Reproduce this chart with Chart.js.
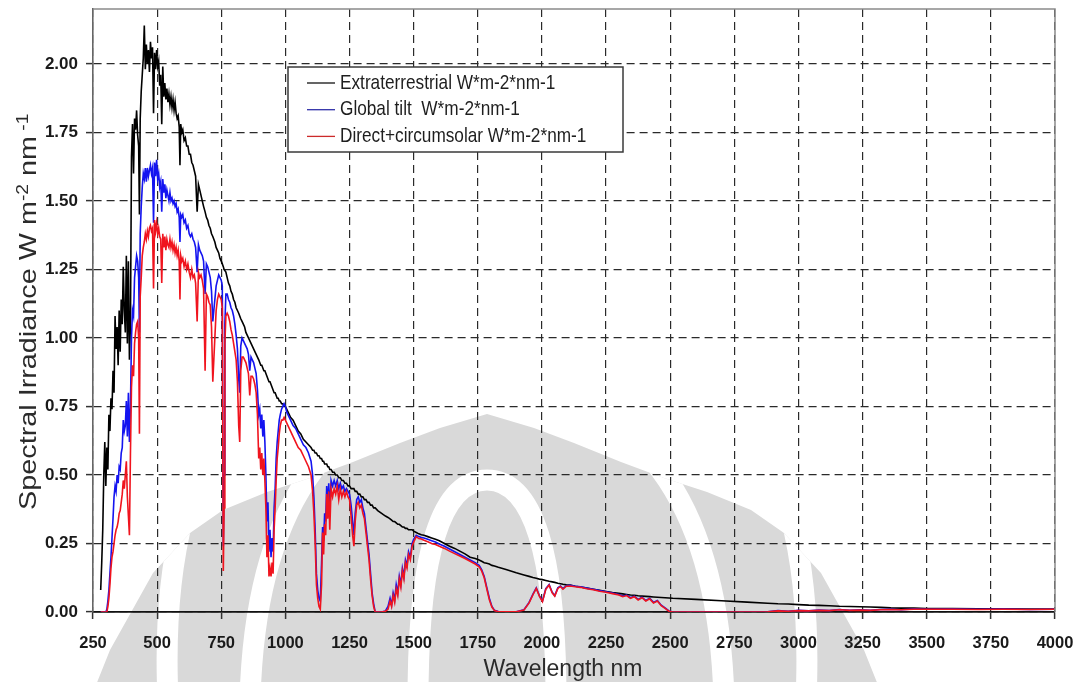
<!DOCTYPE html>
<html>
<head>
<meta charset="utf-8">
<title>Spectral irradiance</title>
<script src="https://cdn.jsdelivr.net/npm/chart.js@4.4.1/dist/chart.umd.min.js"></script>
<style>
  html, body { margin: 0; padding: 0; background: #fff; }
  #wrap { width: 1081px; height: 682px; }
</style>
</head>
<body>
<div id="wrap"><canvas id="spectrum" width="1081" height="682"></canvas></div>
<script>
// wavelength grid (nm) shared by the three spectra
const wavelength = [
  280, 284, 288, 292, 296, 300, 304, 308, 312, 316, 320, 324, 328, 332, 336, 340, 344, 348, 352, 356,
  360, 364, 368, 372, 376, 380, 384, 388, 392, 396, 400, 404, 408, 412, 416, 420, 424, 428, 431, 434,
  438, 442, 446, 450, 454, 458, 462, 466, 470, 474, 478, 482, 486, 490, 494, 498, 502, 506, 510, 514,
  518, 522, 526, 530, 534, 538, 542, 546, 550, 554, 558, 562, 566, 570, 574, 578, 582, 586, 589, 592,
  596, 600, 605, 610, 615, 620, 625, 630, 635, 640, 645, 650, 656, 661, 666, 671, 676, 681, 687, 692,
  697, 702, 707, 712, 717, 721, 725, 730, 735, 740, 745, 750, 754, 758, 761, 764, 768, 773, 778, 783,
  788, 793, 798, 803, 808, 813, 818, 822, 826, 831, 836, 841, 846, 851, 856, 861, 866, 871, 876, 881,
  886, 891, 896, 900, 904, 908, 912, 916, 920, 924, 928, 932, 936, 940, 944, 948, 952, 956, 960, 964,
  968, 972, 976, 980, 985, 990, 995, 1000, 1005, 1010, 1020, 1030, 1040, 1050, 1060, 1070, 1080, 1090, 1100, 1106,
  1111, 1116, 1121, 1126, 1131, 1136, 1141, 1145, 1149, 1153, 1157, 1161, 1165, 1169, 1173, 1178, 1184, 1190, 1196, 1202,
  1208, 1214, 1220, 1226, 1232, 1238, 1244, 1250, 1256, 1262, 1267, 1272, 1278, 1284, 1290, 1296, 1302, 1308, 1314, 1320,
  1326, 1332, 1338, 1344, 1350, 1360, 1375, 1390, 1400, 1408, 1414, 1420, 1426, 1432, 1438, 1444, 1450, 1456, 1462, 1468,
  1474, 1480, 1487, 1494, 1500, 1510, 1520, 1530, 1540, 1555, 1570, 1585, 1600, 1620, 1640, 1660, 1680, 1700, 1720, 1740,
  1755, 1765, 1775, 1785, 1795, 1805, 1815, 1830, 1860, 1900, 1930, 1950, 1965, 1978, 1990, 2002, 2015, 2028, 2040, 2050,
  2062, 2072, 2082, 2095, 2110, 2130, 2150, 2175, 2200, 2225, 2250, 2275, 2300, 2315, 2330, 2345, 2360, 2375, 2390, 2405,
  2420, 2435, 2450, 2465, 2480, 2495, 2510, 2600, 2700, 2800, 2880, 2920, 2960, 3000, 3040, 3080, 3120, 3160, 3200, 3240,
  3280, 3320, 3360, 3400, 3450, 3500, 3600, 3700, 3800, 3900, 4000
];

// W m-2 nm-1, top of atmosphere
const extraterrestrial = [
  0.08, 0.18, 0.30, 0.50, 0.62, 0.46, 0.60, 0.52, 0.72, 0.66, 0.78, 0.74, 0.88, 0.80, 1.08, 0.96, 1.04, 0.90, 1.10, 0.95,
  1.14, 1.05, 1.26, 1.10, 1.02, 1.30, 0.98, 1.28, 0.92, 1.05, 1.66, 1.78, 1.60, 1.80, 1.76, 1.83, 1.74, 1.70, 1.45, 1.80,
  1.90, 1.96, 2.02, 2.14, 1.98, 2.07, 2.00, 2.05, 1.97, 2.08, 2.02, 2.06, 1.82, 2.04, 1.98, 2.05, 1.99, 2.01, 1.92, 1.96,
  1.78, 1.99, 1.88, 1.93, 1.87, 1.91, 1.86, 1.89, 1.85, 1.88, 1.84, 1.87, 1.83, 1.86, 1.82, 1.80, 1.81, 1.77, 1.63, 1.78,
  1.75, 1.76, 1.72, 1.73, 1.70, 1.70, 1.67, 1.67, 1.64, 1.63, 1.61, 1.59, 1.46, 1.56, 1.54, 1.52, 1.50, 1.48, 1.46, 1.44,
  1.43, 1.41, 1.40, 1.38, 1.37, 1.36, 1.35, 1.33, 1.32, 1.31, 1.29, 1.28, 1.27, 1.26, 1.25, 1.25, 1.24, 1.22, 1.20, 1.19,
  1.17, 1.16, 1.14, 1.13, 1.11, 1.10, 1.09, 1.08, 1.07, 1.06, 1.05, 1.04, 1.02, 1.01, 1.00, 0.99, 0.98, 0.97, 0.96, 0.95,
  0.94, 0.93, 0.92, 0.91, 0.90, 0.90, 0.89, 0.88, 0.88, 0.87, 0.86, 0.85, 0.84, 0.84, 0.83, 0.82, 0.81, 0.80, 0.80, 0.79,
  0.78, 0.78, 0.77, 0.77, 0.76, 0.76, 0.75, 0.75, 0.74, 0.73, 0.71, 0.70, 0.68, 0.66, 0.65, 0.63, 0.62, 0.61, 0.60, 0.59,
  0.59, 0.58, 0.58, 0.57, 0.57, 0.56, 0.56, 0.55, 0.55, 0.54, 0.54, 0.54, 0.53, 0.53, 0.52, 0.52, 0.51, 0.51, 0.50, 0.50,
  0.49, 0.49, 0.48, 0.48, 0.47, 0.47, 0.46, 0.46, 0.45, 0.45, 0.45, 0.44, 0.44, 0.43, 0.43, 0.42, 0.42, 0.41, 0.41, 0.40,
  0.40, 0.39, 0.39, 0.38, 0.38, 0.37, 0.36, 0.35, 0.345, 0.34, 0.335, 0.33, 0.33, 0.325, 0.32, 0.32, 0.315, 0.31, 0.31, 0.305,
  0.305, 0.30, 0.30, 0.30, 0.295, 0.29, 0.285, 0.282, 0.28, 0.275, 0.27, 0.265, 0.26, 0.25, 0.24, 0.232, 0.222, 0.212, 0.20, 0.195,
  0.19, 0.185, 0.18, 0.178, 0.175, 0.17, 0.168, 0.163, 0.155, 0.143, 0.135, 0.13, 0.126, 0.123, 0.12, 0.118, 0.115, 0.112, 0.11, 0.108,
  0.105, 0.103, 0.101, 0.099, 0.098, 0.094, 0.091, 0.087, 0.083, 0.079, 0.075, 0.071, 0.068, 0.066, 0.064, 0.062, 0.061, 0.059, 0.058, 0.057,
  0.056, 0.055, 0.054, 0.053, 0.052, 0.051, 0.05, 0.046, 0.041, 0.036, 0.032, 0.030, 0.029, 0.027, 0.025, 0.024, 0.023, 0.021, 0.020, 0.019,
  0.018, 0.017, 0.015, 0.014, 0.014, 0.013, 0.013, 0.012, 0.012, 0.011, 0.011
];

// W m-2 nm-1, global on 37 deg tilted surface
const globalTilt = [
  0, 0, 0, 0, 0, 0.00, 0.01, 0.04, 0.08, 0.14, 0.20, 0.27, 0.34, 0.42, 0.46, 0.44, 0.50, 0.47, 0.53, 0.52,
  0.58, 0.60, 0.70, 0.66, 0.68, 0.77, 0.64, 0.80, 0.62, 0.75, 1.00, 1.10, 1.08, 1.22, 1.26, 1.30, 1.28, 1.22, 1.02, 1.38,
  1.48, 1.55, 1.60, 1.58, 1.62, 1.57, 1.62, 1.59, 1.61, 1.63, 1.60, 1.62, 1.42, 1.64, 1.59, 1.65, 1.58, 1.60, 1.55, 1.57,
  1.46, 1.58, 1.53, 1.56, 1.51, 1.54, 1.52, 1.50, 1.53, 1.50, 1.51, 1.49, 1.50, 1.48, 1.49, 1.46, 1.47, 1.44, 1.35, 1.45,
  1.44, 1.45, 1.42, 1.43, 1.40, 1.41, 1.38, 1.37, 1.38, 1.36, 1.35, 1.33, 1.24, 1.34, 1.32, 1.31, 1.30, 1.28, 1.16, 1.27,
  1.26, 1.24, 1.22, 1.17, 1.06, 1.10, 1.14, 1.19, 1.21, 1.23, 1.22, 1.21, 1.19, 0.24, 0.50, 1.05, 1.16, 1.16, 1.14, 1.13,
  1.11, 1.10, 1.08, 1.05, 1.01, 0.96, 0.85, 0.80, 0.97, 1.00, 0.99, 0.98, 0.97, 0.96, 0.94, 0.88, 0.93, 0.92, 0.91, 0.89,
  0.87, 0.81, 0.72, 0.74, 0.67, 0.72, 0.64, 0.70, 0.62, 0.50, 0.33, 0.40, 0.22, 0.30, 0.20, 0.27, 0.22, 0.38, 0.45, 0.56,
  0.62, 0.66, 0.70, 0.72, 0.74, 0.75, 0.76, 0.75, 0.73, 0.72, 0.70, 0.68, 0.67, 0.65, 0.63, 0.61, 0.60, 0.58, 0.55, 0.50,
  0.42, 0.30, 0.14, 0.08, 0.05, 0.04, 0.18, 0.31, 0.26, 0.36, 0.33, 0.46, 0.39, 0.47, 0.36, 0.48, 0.46, 0.48, 0.46, 0.48,
  0.45, 0.47, 0.45, 0.46, 0.44, 0.45, 0.44, 0.43, 0.39, 0.33, 0.28, 0.36, 0.41, 0.42, 0.40, 0.41, 0.38, 0.36, 0.31, 0.26,
  0.21, 0.14, 0.07, 0.03, 0.00, 0.00, 0.00, 0.004, 0.02, 0.05, 0.025, 0.07, 0.045, 0.10, 0.07, 0.13, 0.10, 0.16, 0.13, 0.19,
  0.17, 0.22, 0.20, 0.25, 0.265, 0.28, 0.275, 0.272, 0.27, 0.265, 0.26, 0.255, 0.248, 0.24, 0.23, 0.22, 0.21, 0.20, 0.19, 0.18,
  0.17, 0.155, 0.13, 0.09, 0.05, 0.02, 0.006, 0.002, 0.001, 0.001, 0.008, 0.035, 0.065, 0.088, 0.06, 0.04, 0.085, 0.10, 0.072, 0.06,
  0.088, 0.095, 0.085, 0.096, 0.097, 0.094, 0.092, 0.087, 0.083, 0.078, 0.074, 0.069, 0.064, 0.058, 0.062, 0.052, 0.058, 0.046, 0.054, 0.042,
  0.05, 0.035, 0.042, 0.025, 0.015, 0.004, 0, 0, 0, 0, 0.001, 0.005, 0.003, 0.006, 0.004, 0.007, 0.005, 0.009, 0.006, 0.008,
  0.006, 0.009, 0.01, 0.008, 0.011, 0.01, 0.011, 0.01, 0.011, 0.009, 0.01
];

// W m-2 nm-1, direct normal plus circumsolar
const directCircumsolar = [
  0, 0, 0, 0, 0, 0.00, 0.00, 0.02, 0.05, 0.10, 0.16, 0.20, 0.22, 0.25, 0.28, 0.30, 0.31, 0.33, 0.36, 0.37,
  0.40, 0.43, 0.48, 0.45, 0.50, 0.55, 0.42, 0.35, 0.28, 0.58, 0.82, 0.90, 0.86, 0.98, 1.02, 1.05, 1.06, 1.00, 0.65, 1.15,
  1.22, 1.30, 1.33, 1.35, 1.38, 1.36, 1.39, 1.37, 1.40, 1.41, 1.39, 1.40, 1.18, 1.43, 1.39, 1.42, 1.38, 1.40, 1.37, 1.36,
  1.20, 1.38, 1.33, 1.37, 1.32, 1.36, 1.34, 1.33, 1.36, 1.33, 1.35, 1.32, 1.34, 1.31, 1.33, 1.30, 1.32, 1.28, 1.14, 1.30,
  1.28, 1.29, 1.26, 1.28, 1.25, 1.27, 1.24, 1.22, 1.25, 1.22, 1.23, 1.20, 1.06, 1.24, 1.22, 1.23, 1.21, 1.18, 0.88, 1.16,
  1.15, 1.13, 1.12, 1.04, 0.84, 0.92, 1.00, 1.10, 1.14, 1.16, 1.15, 1.14, 1.11, 0.15, 0.38, 0.98, 1.08, 1.09, 1.08, 1.06,
  1.03, 1.01, 0.98, 0.95, 0.92, 0.84, 0.68, 0.62, 0.88, 0.93, 0.93, 0.92, 0.91, 0.89, 0.87, 0.79, 0.86, 0.86, 0.85, 0.83,
  0.80, 0.72, 0.56, 0.60, 0.52, 0.58, 0.50, 0.56, 0.48, 0.38, 0.20, 0.28, 0.13, 0.16, 0.13, 0.18, 0.14, 0.30, 0.38, 0.48,
  0.56, 0.60, 0.65, 0.68, 0.70, 0.70, 0.71, 0.70, 0.69, 0.68, 0.66, 0.64, 0.62, 0.60, 0.59, 0.57, 0.55, 0.53, 0.50, 0.44,
  0.36, 0.25, 0.10, 0.05, 0.02, 0.01, 0.10, 0.29, 0.21, 0.32, 0.28, 0.43, 0.34, 0.44, 0.30, 0.45, 0.42, 0.45, 0.43, 0.46,
  0.41, 0.45, 0.42, 0.44, 0.42, 0.44, 0.42, 0.41, 0.35, 0.28, 0.24, 0.33, 0.39, 0.40, 0.38, 0.39, 0.36, 0.34, 0.29, 0.24,
  0.19, 0.12, 0.06, 0.02, 0.00, 0.00, 0.00, 0.003, 0.01, 0.04, 0.02, 0.06, 0.035, 0.085, 0.06, 0.12, 0.09, 0.15, 0.12, 0.18,
  0.16, 0.21, 0.19, 0.24, 0.255, 0.275, 0.268, 0.266, 0.262, 0.256, 0.25, 0.246, 0.24, 0.232, 0.222, 0.213, 0.204, 0.195, 0.185, 0.175,
  0.165, 0.15, 0.125, 0.085, 0.045, 0.018, 0.005, 0.001, 0.001, 0.001, 0.007, 0.033, 0.063, 0.086, 0.058, 0.038, 0.083, 0.098, 0.07, 0.058,
  0.086, 0.093, 0.083, 0.094, 0.095, 0.092, 0.09, 0.085, 0.081, 0.076, 0.072, 0.067, 0.062, 0.056, 0.06, 0.05, 0.056, 0.044, 0.052, 0.04,
  0.048, 0.033, 0.04, 0.023, 0.013, 0.003, 0, 0, 0, 0, 0.001, 0.004, 0.003, 0.005, 0.004, 0.006, 0.005, 0.008, 0.006, 0.007,
  0.006, 0.008, 0.009, 0.008, 0.01, 0.01, 0.01, 0.009, 0.01, 0.009, 0.01
];

const seriesNames = [
  "Extraterrestrial W*m-2*nm-1",
  "Global tilt  W*m-2*nm-1",
  "Direct+circumsolar W*m-2*nm-1"
];
const seriesColors = ["#000000", "rgb(20,20,240)", "rgb(240,20,30)"];
const legendColors = ["#111111", "#3030a8", "#cc2a2a"];

const xTicks = [250, 500, 750, 1000, 1250, 1500, 1750, 2000, 2250, 2500, 2750, 3000, 3250, 3500, 3750, 4000];
const yTicks = [0, 0.25, 0.5, 0.75, 1.0, 1.25, 1.5, 1.75, 2.0];

const FONT = "'Liberation Sans', Arial, sans-serif";

function toPoints(values) {
  return wavelength.map((w, i) => ({ x: w, y: values[i] }));
}

// pale grey emblem printed behind the plot (left half, mirrored about x = 487)
const EMBLEM_AXIS = 487;
const emblemEdge = [
  [90, 700], [110, 650], [153, 573], [190, 533], [223, 510], [267, 492],
  [310, 478], [353, 462], [400, 443], [440, 428], [487, 414]
];
// white arches cut into it: foot x, bend control point, crown height
const emblemArches = [
  { foot: 168, cx: 150, cy: 300, top: 300 },
  { foot: 250, cx: 258, cy: 400, top: 380 },
  { foot: 418, cx: 418, cy: 480, top: 480 }
];

const emblemPlugin = {
  id: "emblem",
  beforeDraw(chart) {
    const ctx = chart.ctx;
    const m = x => 2 * EMBLEM_AXIS - x;
    ctx.save();
    ctx.beginPath();
    emblemEdge.forEach((p, i) => (i ? ctx.lineTo(p[0], p[1]) : ctx.moveTo(p[0], p[1])));
    emblemEdge.slice().reverse().forEach(p => ctx.lineTo(m(p[0]), p[1]));
    ctx.closePath();
    ctx.fillStyle = "#d9d9d9";
    ctx.fill();
    ctx.clip();

    ctx.strokeStyle = "#ffffff";
    ctx.lineWidth = 21;
    emblemArches.forEach(a => {
      ctx.beginPath();
      ctx.moveTo(a.foot, 700);
      ctx.quadraticCurveTo(a.cx, a.cy, EMBLEM_AXIS, a.top);
      ctx.quadraticCurveTo(m(a.cx), a.cy, m(a.foot), 700);
      ctx.stroke();
    });
    ctx.restore();
  }
};

// grey frame on top and right of the plot
const framePlugin = {
  id: "frame",
  afterDraw(chart) {
    const { ctx, chartArea: a } = chart;
    ctx.save();
    ctx.strokeStyle = "#8a8a8a";
    ctx.lineWidth = 1.5;
    ctx.beginPath();
    ctx.moveTo(a.left, a.top);
    ctx.lineTo(a.right, a.top);
    ctx.lineTo(a.right, a.bottom);
    ctx.stroke();
    ctx.restore();
  }
};

// boxed legend in the upper part of the plot
const legendPlugin = {
  id: "boxLegend",
  afterDatasetsDraw(chart) {
    const ctx = chart.ctx;
    const box = { x: 288, y: 67, w: 335, h: 85 };
    ctx.save();
    ctx.fillStyle = "#ffffff";
    ctx.fillRect(box.x, box.y, box.w, box.h);
    ctx.strokeStyle = "#3a3a3a";
    ctx.lineWidth = 1.5;
    ctx.strokeRect(box.x, box.y, box.w, box.h);
    seriesNames.forEach((name, i) => {
      const y = 83 + i * 26.7;
      ctx.strokeStyle = legendColors[i];
      ctx.lineWidth = 1.3;
      ctx.beginPath();
      ctx.moveTo(307, y);
      ctx.lineTo(335, y);
      ctx.stroke();
      ctx.save();
      ctx.translate(340, y);
      ctx.scale(0.82, 1);
      ctx.fillStyle = "#1e1e1e";
      ctx.font = "21px " + FONT;
      ctx.textBaseline = "middle";
      ctx.fillText(name, 0, 0);
      ctx.restore();
    });
    ctx.restore();
  }
};

// axis titles, the y one with superscript exponents
const titlePlugin = {
  id: "axisTitles",
  afterDraw(chart) {
    const ctx = chart.ctx;
    ctx.save();
    ctx.fillStyle = "#2b2b2b";
    ctx.textBaseline = "alphabetic";

    ctx.font = "23px " + FONT;
    ctx.textAlign = "center";
    ctx.fillText("Wavelength nm", 563, 676);

    ctx.translate(36, 510);
    ctx.rotate(-Math.PI / 2);
    ctx.scale(1.2, 1);
    ctx.textAlign = "left";
    const parts = [
      { t: "Spectral Irradiance W m", sup: false },
      { t: "-2", sup: true },
      { t: " nm", sup: false },
      { t: " -1", sup: true }
    ];
    let x = 0;
    parts.forEach(p => {
      ctx.font = (p.sup ? "16px " : "24px ") + FONT;
      ctx.fillText(p.t, x, p.sup ? -8 : 0);
      x += ctx.measureText(p.t).width;
    });
    ctx.restore();
  }
};

const datasets = [extraterrestrial, globalTilt, directCircumsolar].map((values, i) => ({
  label: seriesNames[i],
  data: toPoints(values),
  borderColor: seriesColors[i],
  borderWidth: 1.6,
  pointRadius: 0,
  tension: 0,
  fill: false,
  order: 3 - i
}));

new Chart(document.getElementById("spectrum"), {
  type: "line",
  data: { datasets },
  options: {
    responsive: false,
    animation: false,
    parsing: false,
    layout: { padding: { top: 9, right: 26, left: 0, bottom: 0 } },
    plugins: {
      legend: { display: false },
      tooltip: { enabled: false }
    },
    scales: {
      x: {
        type: "linear",
        min: 250,
        max: 4000,
        afterFit(scale) {
          scale.height = 70;
          scale.paddingLeft = 0;
          scale.paddingRight = 0;
        },
        afterBuildTicks(scale) { scale.ticks = xTicks.map(v => ({ value: v })); },
        ticks: {
          color: "#1a1a1a",
          font: { family: FONT, size: 16.5, weight: "bold" },
          padding: 15,
          maxRotation: 0,
          autoSkip: false,
          callback: v => String(v)
        },
        grid: { color: "#2a2a2a", lineWidth: 1.2, tickLength: 7, tickColor: "#333", tickWidth: 1.5 },
        border: { color: "#111", width: 1.8, dash: [8, 5] }
      },
      y: {
        min: 0,
        max: 2.2,
        afterFit(scale) {
          scale.width = 93;
          scale.paddingTop = 0;
          scale.paddingBottom = 0;
        },
        afterBuildTicks(scale) { scale.ticks = yTicks.map(v => ({ value: v })); },
        ticks: {
          color: "#1a1a1a",
          font: { family: FONT, size: 17, weight: "bold" },
          padding: 8,
          callback: v => v.toFixed(2)
        },
        grid: { color: "#2a2a2a", lineWidth: 1.2, tickLength: 7, tickColor: "#333", tickWidth: 1.5 },
        border: { color: "#666", width: 1.6, dash: [8, 5] }
      }
    }
  },
  plugins: [emblemPlugin, framePlugin, legendPlugin, titlePlugin]
});
</script>
</body>
</html>
